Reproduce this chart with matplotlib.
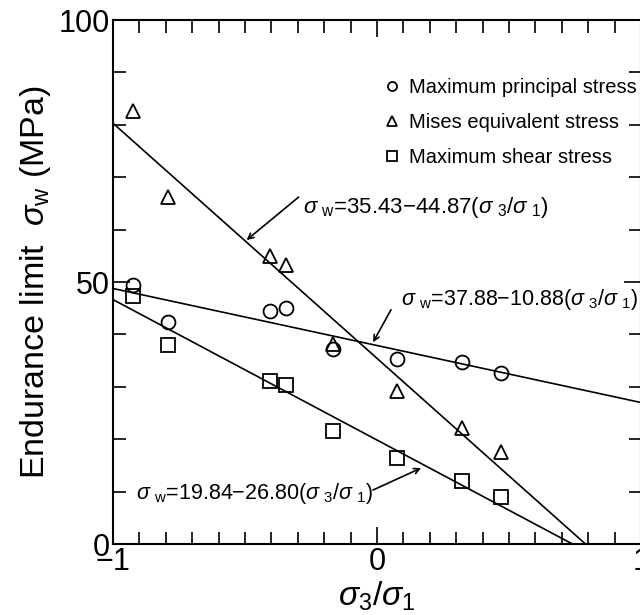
import numpy as np
import matplotlib
matplotlib.use('Agg')
import matplotlib.pyplot as plt
from matplotlib.ticker import MultipleLocator

plt.rcParams['font.family'] = ['Liberation Sans', 'DejaVu Sans']
plt.rcParams['mathtext.fontset'] = 'custom'
plt.rcParams['mathtext.rm'] = 'Liberation Sans'
plt.rcParams['mathtext.it'] = 'Liberation Sans:italic'

# data
ratio = [-0.924, -0.79, -0.407, -0.346, -0.167, 0.076, 0.323, 0.47]
principal = [49.4, 42.4, 44.5, 45.0, 37.2, 35.3, 34.7, 32.6]
mises = [82.6, 66.2, 55.0, 53.2, 38.2, 29.2, 22.1, 17.6]
shear = [47.3, 38.0, 31.1, 30.3, 21.6, 16.4, 12.0, 9.0]

# fitted lines: sigma_w = a - b * (s3/s1)
fit_principal = (37.88, 10.88)
fit_mises = (35.43, 44.87)
fit_shear = (19.84, 26.80)

fig = plt.figure(figsize=(6.4, 6.15), dpi=100)
ax = fig.add_axes([113 / 640, 71 / 615, 528 / 640, 524 / 615])

xx = np.linspace(-1, 1, 200)
for a, b in [fit_principal, fit_mises, fit_shear]:
    ax.plot(xx, a - b * xx, color='black', lw=1.2)

mk = dict(linestyle='none', mfc='none', mec='black', mew=1.3, ms=10)
ax.plot(ratio, principal, marker='o', label='Maximum principal stress', **mk)
ax.plot(ratio, mises, marker='^', label='Mises equivalent stress', **mk)
ax.plot(ratio, shear, marker='s', label='Maximum shear stress', **mk)

ax.set_xlim(-1, 1)
ax.set_ylim(0, 100)
ax.set_xticks([-1, 0, 1])
ax.set_xticklabels(['\u22121', '0', '1'])
ax.xaxis.set_minor_locator(MultipleLocator(0.1))
ax.yaxis.set_major_locator(MultipleLocator(50))
ax.yaxis.set_minor_locator(MultipleLocator(10))
ax.tick_params(which='both', direction='in', top=True, right=True, width=1.2, labelsize=22)
ax.tick_params(which='major', length=12)
ax.tick_params(which='minor', length=9)
ax.tick_params(axis='x', pad=2)
ax.tick_params(axis='y', pad=2)
for s in ax.spines.values():
    s.set_linewidth(1.5)

ax.set_ylabel(r'Endurance limit  $\sigma_{\rm w}$ (MPa)', fontsize=24.5, labelpad=4)
ax.set_xlabel(r'$\sigma_{3}$/$\sigma_{1}$', fontsize=24, labelpad=2)

ax.legend(loc='upper left', bbox_to_anchor=(0.497, 0.905), frameon=False, fontsize=14.5,
          markerscale=0.65, handlelength=0.8, handletextpad=0.45, labelspacing=0.8,
          borderaxespad=0)

fs = 16
arrow = dict(arrowstyle='->', color='black', lw=1.2, shrinkA=0, shrinkB=0)


def eq(a, b):
    return ('$\\sigma\\;{}_{\\rm w}$=' + a + '\u2212' + b
            + '($\\sigma\\;{}_3$/$\\sigma\\;{}_1$)')


ax.text(-0.281, 64.3, eq('35.43', '44.87'), fontsize=fs, va='center')
ax.annotate('', xy=(-0.494, 58.0), xytext=(-0.297, 66.2), arrowprops=arrow)

ax.text(0.091, 46.6, eq('37.88', '10.88'), fontsize=15.5, va='center')
ax.annotate('', xy=(-0.015, 38.5), xytext=(0.053, 44.7), arrowprops=arrow)

ax.text(-0.913, 9.7, eq('19.84', '26.80'), fontsize=15.5, va='center')
ax.annotate('', xy=(0.167, 14.5), xytext=(-0.015, 10.3), arrowprops=arrow)

fig.savefig('out.png', dpi=100)
